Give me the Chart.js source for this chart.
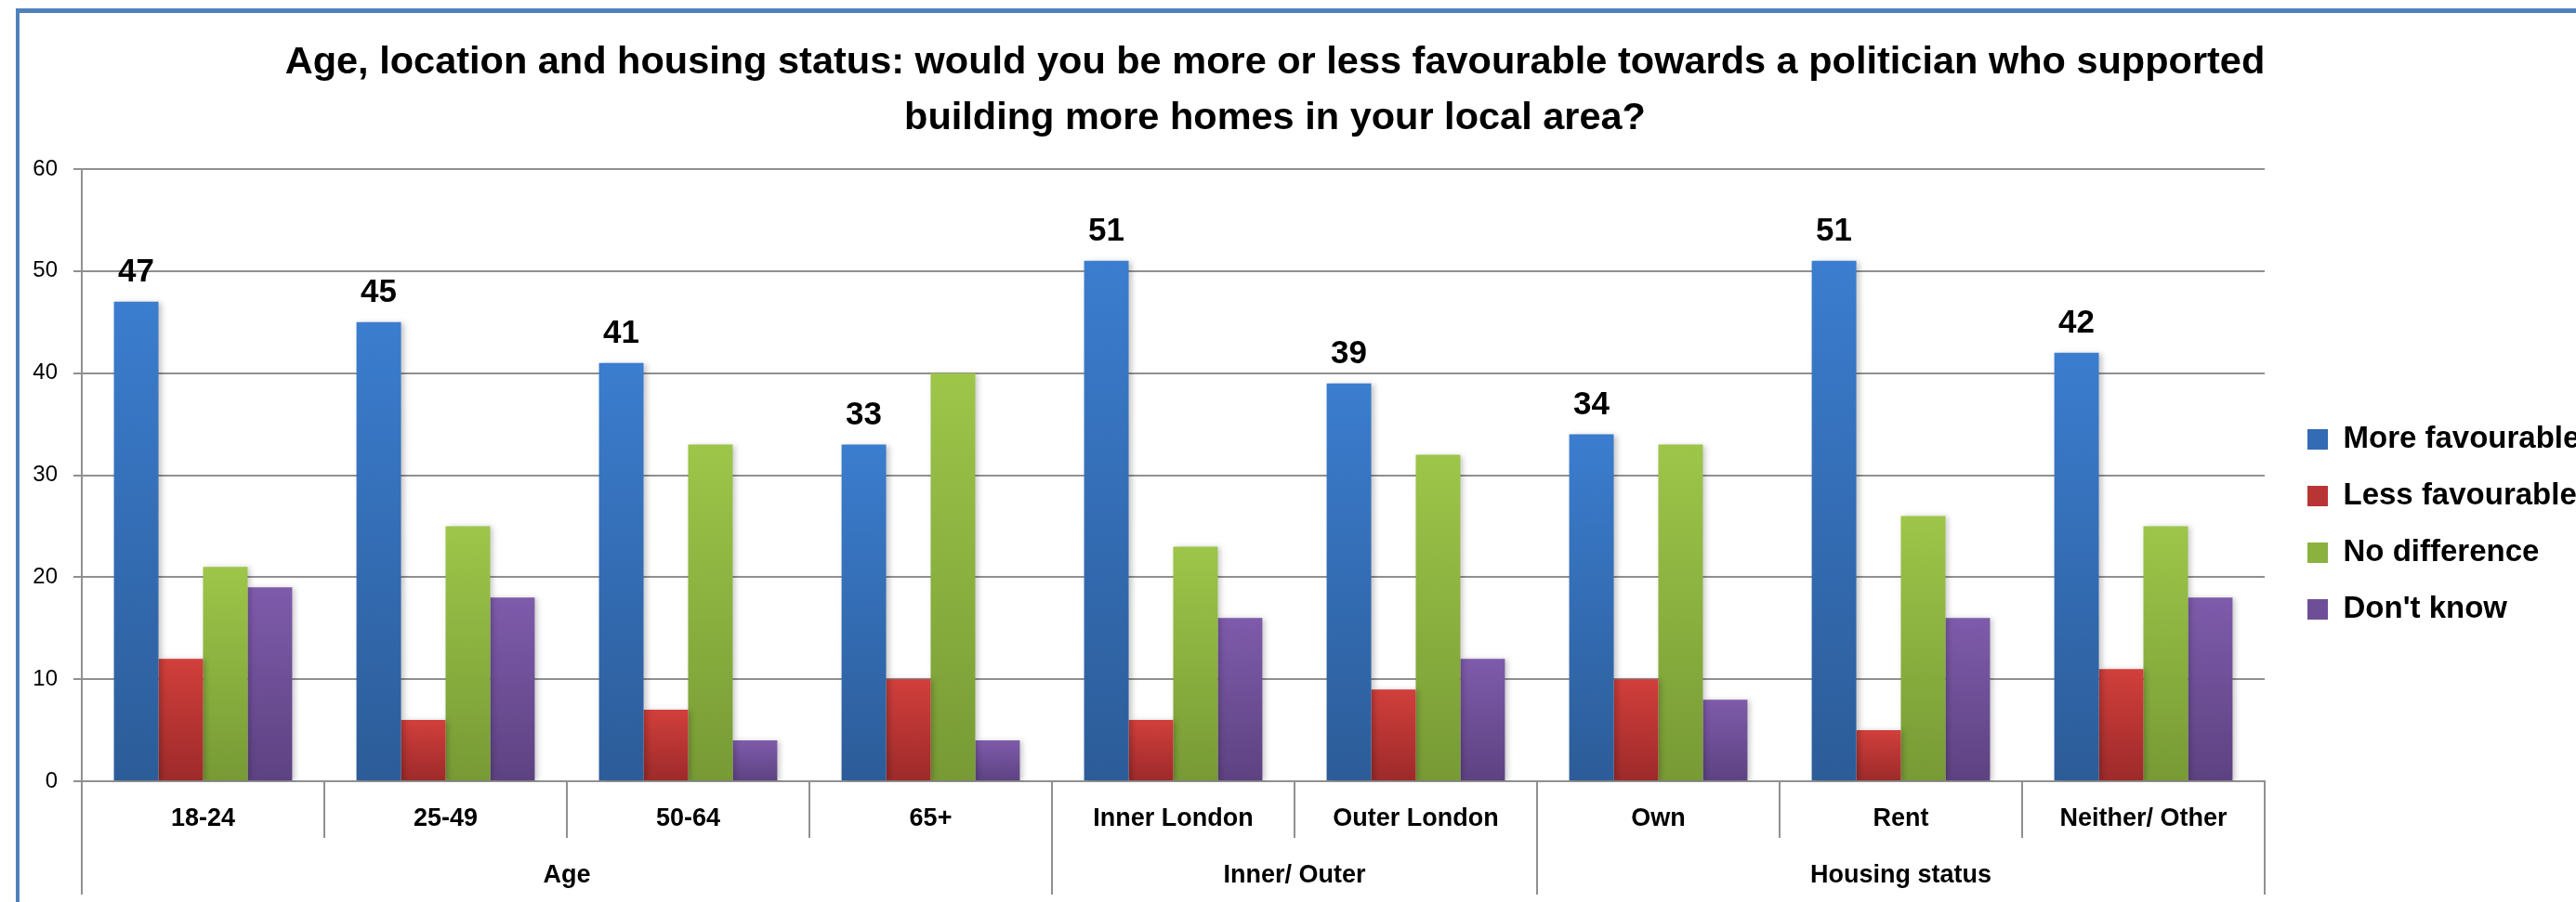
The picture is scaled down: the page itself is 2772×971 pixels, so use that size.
<!DOCTYPE html>
<html>
  <head>
    <title>Age, location and housing status</title>
    <style>
      html, body { margin: 0; padding: 0; background: #fff; }
      #wrap { position: relative; width: 2772px; height: 971px; overflow: hidden; }
      #frame {
        position: absolute; left: 17px; top: 9px; width: 2800px; height: 1000px;
        border-left: 4px solid #4f81bd; border-top: 5px solid #4f81bd;
        pointer-events: none;
      }
    </style>
  </head>
  <body>
    <script src="https://cdn.jsdelivr.net/npm/chart.js@4.4.1/dist/chart.umd.min.js"></script>

    <div id="wrap">
      <canvas id="housingChart"></canvas>
      <div id="frame"></div>
    </div>

    <script>
      // Chart values
      const categories = ["18-24", "25-49", "50-64", "65+", "Inner London", "Outer London", "Own", "Rent", "Neither/ Other"];
      const groupLabels = ["Age", "Inner/ Outer", "Housing status"];
      const groupSizes = [4, 2, 3];
      const seriesNames = ["More favourable", "Less favourable", "No difference", "Don't know"];
      const moreFavourable = [47, 45, 41, 33, 51, 39, 34, 51, 42];
      const lessFavourable = [12, 6, 7, 10, 6, 9, 10, 5, 11];
      const noDifference = [21, 25, 33, 40, 23, 32, 33, 26, 25];
      const dontKnow = [19, 18, 4, 4, 16, 12, 8, 16, 18];
      const yTicks = [0, 10, 20, 30, 40, 50, 60];

      // top / bottom colours of each bar gradient, plus a flat one for the legend
      const topColors = ["#3b7dcf", "#d13f3b", "#9dc649", "#7e5bab"];
      const bottomColors = ["#2c5c98", "#9d2a2a", "#779a35", "#5d4281"];
      const legendColors = ["#336bb5", "#b93434", "#8bb13f", "#6e4f97"];

      const FONT = "'Liberation Sans', Arial, sans-serif";
      const GRID = "#909090";

      Chart.defaults.font.family = FONT;
      Chart.defaults.color = "#000";

      // Group boundaries and centres on the category index scale
      const groupEdges = [-0.5];
      const groupCentres = {};
      groupSizes.forEach((n, i) => {
        const start = groupEdges[groupEdges.length - 1];
        groupCentres[start + n / 2] = groupLabels[i];
        groupEdges.push(start + n);
      });

      // vertical gradient from top of each bar down to the baseline
      function barFill(i) {
        return function (c) {
          const chart = c.chart;
          const y = chart.scales.y;
          if (!chart.chartArea || !y || c.type !== "data") return legendColors[i];
          const yTop = y.getPixelForValue(c.raw);
          const yBase = y.getPixelForValue(0);
          const g = chart.ctx.createLinearGradient(0, yTop, 0, yBase);
          g.addColorStop(0, topColors[i]);
          g.addColorStop(1, bottomColors[i]);
          return g;
        };
      }

      // soft shadow on bars and value labels above the first series
      const barExtras = {
        id: "barExtras",
        beforeDatasetsDraw(chart) {
          const ctx = chart.ctx;
          ctx.save();
          ctx.shadowColor = "rgba(0,0,0,0.22)";
          ctx.shadowBlur = 6;
          ctx.shadowOffsetX = 3;
          ctx.shadowOffsetY = 1;
        },
        afterDatasetsDraw(chart) {
          const ctx = chart.ctx;
          ctx.restore();
          const meta = chart.getDatasetMeta(0);
          ctx.save();
          ctx.font = "bold 35px " + FONT;
          ctx.fillStyle = "#000";
          ctx.textAlign = "center";
          ctx.textBaseline = "alphabetic";
          meta.data.forEach((bar, i) => {
            ctx.fillText(String(moreFavourable[i]), bar.x, bar.y - 22);
          });
          ctx.restore();
        }
      };

      const seriesData = [moreFavourable, lessFavourable, noDifference, dontKnow];

      const ctx = document.getElementById("housingChart").getContext("2d");
      const chart = new Chart(ctx, {
        type: "bar",
        data: {
          labels: categories,
          datasets: seriesData.map((d, i) => ({
            label: seriesNames[i],
            data: d,
            backgroundColor: barFill(i),
            borderWidth: 0,
            categoryPercentage: 0.735,
            barPercentage: 1.0
          }))
        },
        options: {
          responsive: true,
          maintainAspectRatio: false,
          animation: false,
          layout: { padding: { left: -28, right: 0, top: 0, bottom: 8 } },
          plugins: {
            tooltip: { enabled: false },
            title: {
              display: true,
              text: [
                "Age, location and housing status: would you be more or less favourable towards a politician who supported",
                "building more homes in your local area?"
              ],
              font: { size: 41.5, weight: "bold", lineHeight: 60 / 41.5 },
              color: "#000",
              padding: { top: 37.6, bottom: 24.4 }
            },
            legend: {
              position: "right",
              align: "center",
              maxWidth: 317,
              title: { display: true, text: "", font: { size: 10, lineHeight: 1 }, padding: { top: 156, bottom: 0 } },
              labels: {
                boxWidth: 22,
                boxHeight: 22,
                padding: 28,
                color: "#000",
                font: { size: 33, weight: "bold" },
                generateLabels(chart) {
                  return chart.data.datasets.map((ds, i) => ({
                    text: ds.label,
                    fillStyle: legendColors[i],
                    strokeStyle: legendColors[i],
                    lineWidth: 0,
                    hidden: false,
                    datasetIndex: i
                  }));
                }
              }
            }
          },
          scales: {
            y: {
              min: 0,
              max: 60,
              afterBuildTicks(scale) {
                scale.ticks = yTicks.map(v => ({ value: v }));
              },
              title: { display: true, text: "", font: { size: 10, lineHeight: 1 }, padding: { top: 36.3, bottom: 0 } },
              grid: { color: GRID, lineWidth: 2, tickLength: 9 },
              border: { display: true, color: GRID, width: 2 },
              ticks: { font: { size: 24 }, color: "#000", padding: 17 }
            },
            // empty axis used as a gap between plot and legend
            gap: {
              type: "linear",
              position: "right",
              display: true,
              min: 0,
              max: 1,
              grid: { display: false, drawTicks: false },
              border: { display: false },
              ticks: { display: false },
              afterFit(scale) { scale.width = 18; }
            },
            x: {
              type: "category",
              weight: 0,
              offset: true,
              grid: { offset: true, drawOnChartArea: false, color: GRID, lineWidth: 2, tickLength: 61 },
              border: { display: true, color: GRID, width: 2 },
              ticks: {
                autoSkip: false, maxRotation: 0, minRotation: 0,
                crossAlign: "center", padding: -20,
                font: { size: 27, weight: "bold", lineHeight: 40 / 27 },
                color: "#000"
              }
            },
            x2: {
              type: "linear",
              position: "bottom",
              weight: 1,
              min: -0.5,
              max: 8.5,
              offset: false,
              afterBuildTicks(scale) {
                const vals = groupEdges.concat(Object.keys(groupCentres).map(Number)).sort((a, b) => a - b);
                scale.ticks = vals.map(v => ({ value: v }));
              },
              grid: {
                offset: false,
                drawOnChartArea: false,
                lineWidth: 2,
                tickLength: 61,
                color: c => (c.tick && groupEdges.includes(c.tick.value) ? GRID : "rgba(0,0,0,0)")
              },
              border: { display: false },
              ticks: {
                autoSkip: false, maxRotation: 0, minRotation: 0,
                crossAlign: "center", padding: -20,
                font: { size: 27, weight: "bold", lineHeight: 40 / 27 },
                color: "#000",
                callback: v => groupCentres[v] || ""
              }
            }
          }
        },
        plugins: [barExtras]
      });
    </script>
  </body>
</html>
